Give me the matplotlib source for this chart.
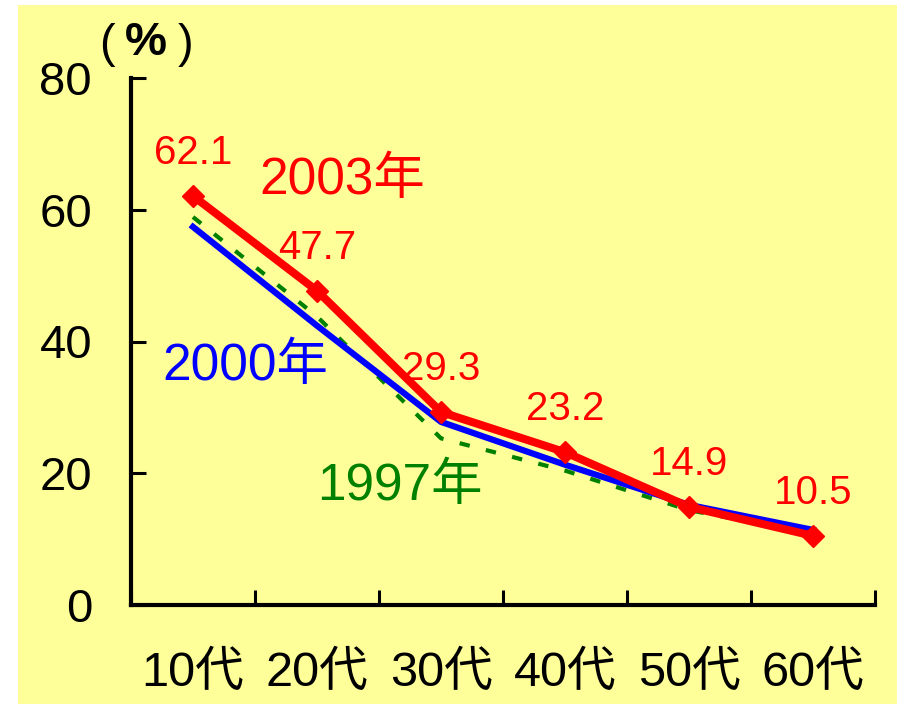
import matplotlib
matplotlib.use("Agg")
import matplotlib.pyplot as plt
from matplotlib import font_manager
from matplotlib.patches import Rectangle

# data
ages = ["10代", "20代", "30代", "40代", "50代", "60代"]
y2003 = [62.1, 47.7, 29.3, 23.2, 14.9, 10.5]
y2000 = [57.4, 42.4, 27.8, 21.3, 15.2, 11.4]
y1997 = [58.9, 43.8, 25.3, 20.4, 14.4, 10.8]
yticks = [0, 20, 40, 60, 80]

FAMILY = ["Liberation Sans", "Noto Sans CJK JP"]
installed = {f.name for f in font_manager.fontManager.ttflist}
NARROW = ["Liberation Sans Narrow"] if "Liberation Sans Narrow" in installed else ["Liberation Sans"]

plt.rcParams["font.family"] = FAMILY

fig = plt.figure(figsize=(8.97, 7.04), dpi=100, facecolor="white")
fig.patches.append(Rectangle((18 / 897, 0), 1, 1 - 5 / 704, transform=fig.transFigure,
                             facecolor="#FFFF99", edgecolor="none", zorder=-10))

ax = fig.add_axes([131 / 897, 1 - 605 / 704, 744 / 897, 527 / 704])
ax.set_facecolor("none")

x = list(range(1, len(ages) + 1))
ax.plot(x, y1997, color="#008000", lw=3, dashes=(2.5, 4), zorder=2)
ax.plot(x, y2000, color="#0000FF", lw=4.5, zorder=3)
ax.plot(x, y2003, color="#FF0000", lw=5.8, marker="D", ms=11, zorder=4)

for xi, v in zip(x, y2003):
    ax.annotate(f"{v:.1f}", (xi, v), xytext=(0, 31), textcoords="offset points",
                ha="center", va="center", fontsize=29, color="#FF0000", family=NARROW)

ax.text(2.2, 64.5, "2003年", color="#FF0000", fontsize=37, ha="center", va="center")
ax.text(1.42, 36.2, "2000年", color="#0000FF", fontsize=37, ha="center", va="center")
ax.text(2.67, 18.0, "1997年", color="#008000", fontsize=37, ha="center", va="center")

ax.set_xlim(0.5, len(ages) + 0.5)
ax.set_ylim(0, 80)
ax.set_yticks(yticks)
ax.set_xticks([i + 0.5 for i in range(len(ages) + 1)])
ax.set_xticklabels([])
ax.set_xticks(x, minor=True)
ax.set_xticklabels(ages, minor=True)
ax.tick_params(axis="both", which="major", direction="in", length=11, width=2.2, labelsize=34)
ax.tick_params(axis="y", pad=28)
ax.tick_params(axis="x", which="minor", length=0, labelsize=35, pad=33)

for side in ["top", "right"]:
    ax.spines[side].set_visible(False)
for side in ["left", "bottom"]:
    ax.spines[side].set_linewidth(3)

fig.text(107 / 897, 1 - 45 / 704, "(", fontsize=34, ha="center", va="center")
fig.text(146 / 897, 1 - 43 / 704, "%", fontsize=34, fontweight="bold", ha="center", va="center")
fig.text(186 / 897, 1 - 45 / 704, ")", fontsize=34, ha="center", va="center")

fig.savefig("out.png", dpi=100, facecolor="white")
